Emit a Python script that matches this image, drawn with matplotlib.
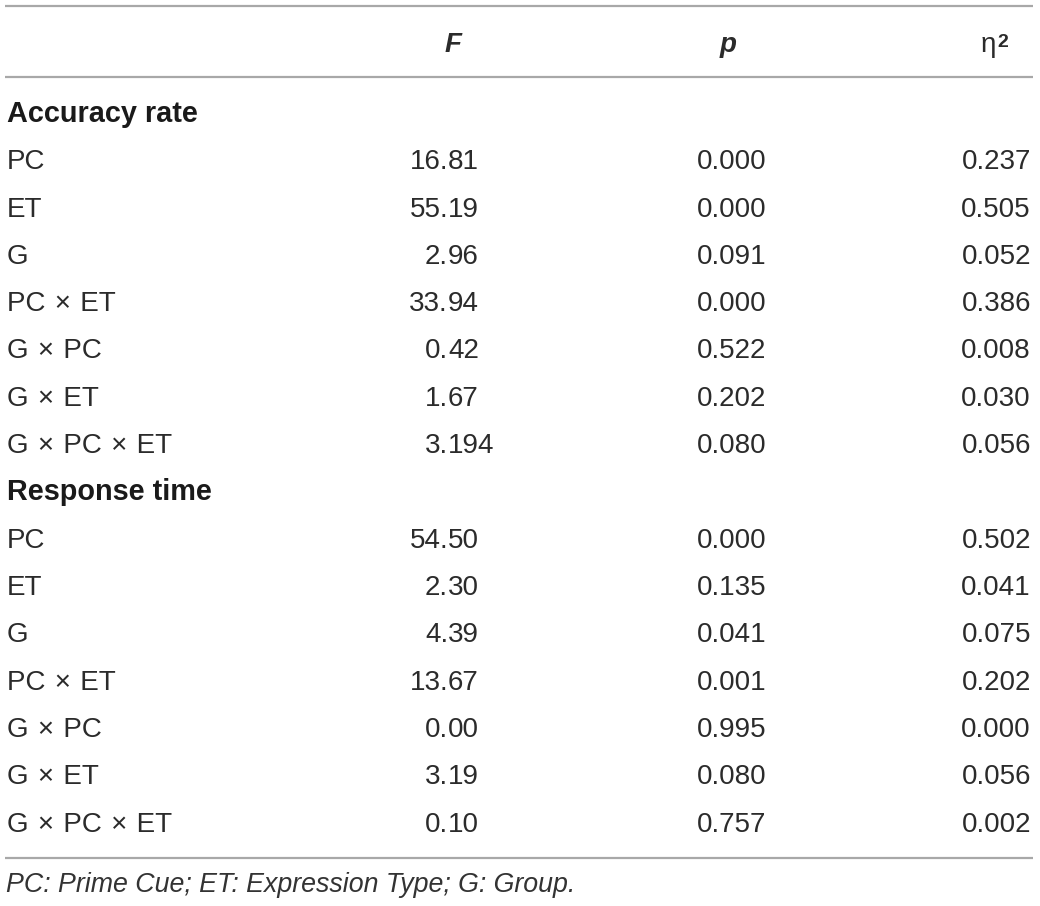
import matplotlib.pyplot as plt

# table content
groups = ['Accuracy rate', 'Response time']
effects = ['PC', 'ET', 'G', 'PC × ET', 'G × PC', 'G × ET', 'G × PC × ET']
f_acc = ['16.81', '55.19', '2.96', '33.94', '0.42', '1.67', '3.194']
p_acc = ['0.000', '0.000', '0.091', '0.000', '0.522', '0.202', '0.080']
eta_acc = ['0.237', '0.505', '0.052', '0.386', '0.008', '0.030', '0.056']
f_rt = ['54.50', '2.30', '4.39', '13.67', '0.00', '3.19', '0.10']
p_rt = ['0.000', '0.135', '0.041', '0.001', '0.995', '0.080', '0.757']
eta_rt = ['0.502', '0.041', '0.075', '0.202', '0.000', '0.056', '0.002']
note = 'PC: Prime Cue; ET: Expression Type; G: Group.'

font = ['Liberation Sans', 'DejaVu Sans']
txt_color = '#2b2b2b'
line_color = '#a8a8a8'
fs = 20

fig = plt.figure(figsize=(10.4, 9.06), dpi=100)
ax = fig.add_axes([0, 0, 1, 1])
ax.set_xlim(0, 1040)
ax.set_ylim(906, 0)
ax.axis('off')

# rules
for y in [5.5, 77, 858]:
    ax.plot([5, 1033], [y, y], color=line_color, lw=1.6, solid_capstyle='butt')

# header
ax.text(453, 52, 'F', fontsize=fs, fontweight='bold', style='italic',
        family=font, ha='center', va='baseline', color=txt_color)
ax.text(728, 52, 'p', fontsize=fs, fontweight='bold', style='italic',
        family=font, ha='center', va='baseline', color=txt_color)
ax.text(996, 52, 'η', fontsize=fs, family=font, ha='right',
        va='baseline', color=txt_color)
ax.text(997, 47, '2', fontsize=14, fontweight='bold', family=font,
        ha='left', va='baseline', color=txt_color)

x_label = 7
x_dec = 448      # F column aligned on the decimal point
x_p = 766
x_eta = 1031
row0 = 122
step = 47.3


def put_f(y, val):
    left, right = val.split('.')
    ax.text(x_dec, y, left + '.', fontsize=fs, family=font, ha='right',
            va='baseline', color=txt_color)
    ax.text(x_dec, y, right, fontsize=fs, family=font, ha='left',
            va='baseline', color=txt_color)


row = 0
for g, fv, pv, ev in [(groups[0], f_acc, p_acc, eta_acc),
                      (groups[1], f_rt, p_rt, eta_rt)]:
    y = row0 + step * row
    ax.text(x_label, y, g, fontsize=20.8, fontweight='bold', family=font,
            ha='left', va='baseline', color='#1a1a1a')
    row += 1
    for i in range(len(effects)):
        y = row0 + step * row
        label = effects[i].replace(' × ', '\u2004×\u2004')
        ax.text(x_label, y, label, fontsize=fs, family=font,
                ha='left', va='baseline', color=txt_color)
        put_f(y, fv[i])
        ax.text(x_p, y, pv[i], fontsize=fs, family=font, ha='right',
                va='baseline', color=txt_color)
        ax.text(x_eta, y, ev[i], fontsize=fs, family=font, ha='right',
                va='baseline', color=txt_color)
        row += 1

ax.text(6, 892, note, fontsize=19.3, style='italic', family=font,
        ha='left', va='baseline', color='#333333')

fig.savefig('out.png', dpi=100)
